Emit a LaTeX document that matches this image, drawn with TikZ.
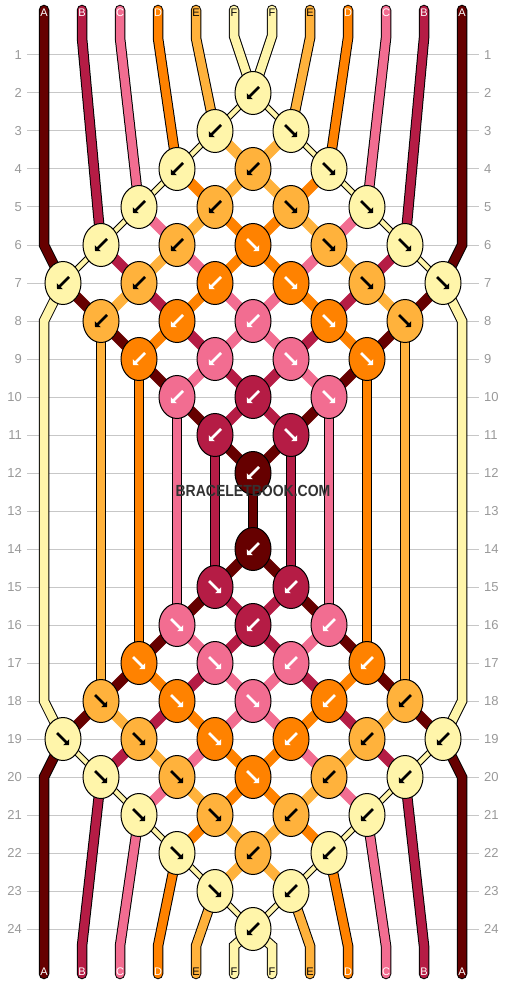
\documentclass[tikz,border=0pt]{standalone}
\usepackage{fontspec}
\setmainfont{Liberation Sans}
\usepackage{graphicx}
\usetikzlibrary{shapes.geometric,arrows.meta}
\pgfdeclarelayer{grid}
\pgfdeclarelayer{strings}
\pgfsetlayers{grid,strings,main}

\newlength{\du}
\setlength{\du}{1pt}

\definecolor{colA}{rgb}{0.400000, 0.000000, 0.000000}
\definecolor{colB}{rgb}{0.709804, 0.109804, 0.270588}
\definecolor{colC}{rgb}{0.949020, 0.427451, 0.568627}
\definecolor{colD}{rgb}{1.000000, 0.509804, 0.000000}
\definecolor{colE}{rgb}{1.000000, 0.698039, 0.235294}
\definecolor{colF}{rgb}{1.000000, 0.960784, 0.666667}
\definecolor{gridcolor}{rgb}{0.780000, 0.780000, 0.780000}
\definecolor{numcolor}{rgb}{0.600000, 0.600000, 0.600000}
\definecolor{wmcolor}{rgb}{0.200000, 0.200000, 0.200000}

\tikzset{
  knot/.style={ellipse, draw=black, line width=1\du, minimum width=36\du, minimum height=43\du, inner sep=0pt},
  knotA/.style={knot, fill=colA},
  knotB/.style={knot, fill=colB},
  knotC/.style={knot, fill=colC},
  knotD/.style={knot, fill=colD},
  knotE/.style={knot, fill=colE},
  knotF/.style={knot, fill=colF},
  strand/.style={draw=black, line width=1\du, double distance=8.5\du, line cap=round},
  strA/.style={strand, double=colA},
  strB/.style={strand, double=colB},
  strC/.style={strand, double=colC},
  strD/.style={strand, double=colD},
  strE/.style={strand, double=colE},
  strF/.style={strand, double=colF},
  link/.style={line width=10.5\du},
  linkA/.style={link, draw=colA},
  linkB/.style={link, draw=colB},
  linkC/.style={link, draw=colC},
  linkD/.style={link, draw=colD},
  linkE/.style={link, draw=colE},
  linkF/.style={draw=black, line width=1\du, double=colF, double distance=4.5\du},
  arrw/.style={line width=2.6\du, -{Triangle[angle=90:5.7pt]}, white},
  arrb/.style={arrw, black},
  rownum/.style={text=numcolor, font=\fontsize{13}{13}\selectfont, inner sep=0pt},
  strlbl/.style={font=\fontsize{11}{11}\selectfont, inner sep=0pt},
  gridline/.style={draw=gridcolor, line width=1\du},
  wmtext/.style={text=wmcolor, font=\fontsize{14}{14}\selectfont\bfseries, inner sep=0pt}
}

\begin{document}
\begin{tikzpicture}
\pgftransformxscale{1.000000}
\pgftransformyscale{-1.000000}
\useasboundingbox (0\du,0\du) rectangle (506\du,984\du);

% row lines and numbers
\begin{pgfonlayer}{grid}
\foreach \r in {1,...,24} {
  \pgfmathsetmacro{\y}{55+38*(\r-1)}
  \draw[gridline] (27\du,\y\du) -- (479\du,\y\du);
  \node[rownum, anchor=east] (numL\r) at (22\du,\y\du) {\r};
  \node[rownum, anchor=west] (numR\r) at (484\du,\y\du) {\r};
}
\end{pgfonlayer}

% knots, top half
\node[knotF] (k2-6) at (253\du,93\du) {};
\node[knotF] (k3-5) at (215\du,131\du) {};
\node[knotF] (k3-7) at (291\du,131\du) {};
\node[knotF] (k4-4) at (177\du,169\du) {};
\node[knotE] (k4-6) at (253\du,169\du) {};
\node[knotF] (k4-8) at (329\du,169\du) {};
\node[knotF] (k5-3) at (139\du,207\du) {};
\node[knotE] (k5-5) at (215\du,207\du) {};
\node[knotE] (k5-7) at (291\du,207\du) {};
\node[knotF] (k5-9) at (367\du,207\du) {};
\node[knotF] (k6-2) at (101\du,245\du) {};
\node[knotE] (k6-4) at (177\du,245\du) {};
\node[knotD] (k6-6) at (253\du,245\du) {};
\node[knotE] (k6-8) at (329\du,245\du) {};
\node[knotF] (k6-10) at (405\du,245\du) {};
\node[knotF] (k7-1) at (63\du,283\du) {};
\node[knotE] (k7-3) at (139\du,283\du) {};
\node[knotD] (k7-5) at (215\du,283\du) {};
\node[knotD] (k7-7) at (291\du,283\du) {};
\node[knotE] (k7-9) at (367\du,283\du) {};
\node[knotF] (k7-11) at (443\du,283\du) {};
\node[knotE] (k8-2) at (101\du,321\du) {};
\node[knotD] (k8-4) at (177\du,321\du) {};
\node[knotC] (k8-6) at (253\du,321\du) {};
\node[knotD] (k8-8) at (329\du,321\du) {};
\node[knotE] (k8-10) at (405\du,321\du) {};
\node[knotD] (k9-3) at (139\du,359\du) {};
\node[knotC] (k9-5) at (215\du,359\du) {};
\node[knotC] (k9-7) at (291\du,359\du) {};
\node[knotD] (k9-9) at (367\du,359\du) {};
\node[knotC] (k10-4) at (177\du,397\du) {};
\node[knotB] (k10-6) at (253\du,397\du) {};
\node[knotC] (k10-8) at (329\du,397\du) {};
\node[knotB] (k11-5) at (215\du,435\du) {};
\node[knotB] (k11-7) at (291\du,435\du) {};
\node[knotA] (k12-6) at (253\du,473\du) {};
% knots, bottom half
\node[knotA] (k14-6) at (253\du,549\du) {};
\node[knotB] (k15-5) at (215\du,587\du) {};
\node[knotB] (k15-7) at (291\du,587\du) {};
\node[knotC] (k16-4) at (177\du,625\du) {};
\node[knotB] (k16-6) at (253\du,625\du) {};
\node[knotC] (k16-8) at (329\du,625\du) {};
\node[knotD] (k17-3) at (139\du,663\du) {};
\node[knotC] (k17-5) at (215\du,663\du) {};
\node[knotC] (k17-7) at (291\du,663\du) {};
\node[knotD] (k17-9) at (367\du,663\du) {};
\node[knotE] (k18-2) at (101\du,701\du) {};
\node[knotD] (k18-4) at (177\du,701\du) {};
\node[knotC] (k18-6) at (253\du,701\du) {};
\node[knotD] (k18-8) at (329\du,701\du) {};
\node[knotE] (k18-10) at (405\du,701\du) {};
\node[knotF] (k19-1) at (63\du,739\du) {};
\node[knotE] (k19-3) at (139\du,739\du) {};
\node[knotD] (k19-5) at (215\du,739\du) {};
\node[knotD] (k19-7) at (291\du,739\du) {};
\node[knotE] (k19-9) at (367\du,739\du) {};
\node[knotF] (k19-11) at (443\du,739\du) {};
\node[knotF] (k20-2) at (101\du,777\du) {};
\node[knotE] (k20-4) at (177\du,777\du) {};
\node[knotD] (k20-6) at (253\du,777\du) {};
\node[knotE] (k20-8) at (329\du,777\du) {};
\node[knotF] (k20-10) at (405\du,777\du) {};
\node[knotF] (k21-3) at (139\du,815\du) {};
\node[knotE] (k21-5) at (215\du,815\du) {};
\node[knotE] (k21-7) at (291\du,815\du) {};
\node[knotF] (k21-9) at (367\du,815\du) {};
\node[knotF] (k22-4) at (177\du,853\du) {};
\node[knotE] (k22-6) at (253\du,853\du) {};
\node[knotF] (k22-8) at (329\du,853\du) {};
\node[knotF] (k23-5) at (215\du,891\du) {};
\node[knotF] (k23-7) at (291\du,891\du) {};
\node[knotF] (k24-6) at (253\du,929\du) {};

% arrows in the knots
\foreach \k in {k7-5,k8-4,k8-6,k9-3,k9-5,k10-4,k10-6,k11-5,k12-6,k14-6,k15-7,k16-6,k16-8,k17-7,k17-9,k18-8,k19-7}
  \draw[arrw] (\k.center) ++(6\du,-6\du) -- ++(-12\du,12\du);
\foreach \k in {k6-6,k7-7,k8-8,k9-7,k9-9,k10-8,k11-7,k15-5,k16-4,k17-3,k17-5,k18-4,k18-6,k19-5,k20-6}
  \draw[arrw] (\k.center) ++(-6\du,-6\du) -- ++(12\du,12\du);
\foreach \k in {k2-6,k3-5,k4-4,k4-6,k5-3,k5-5,k6-2,k6-4,k7-1,k7-3,k8-2,k18-10,k19-9,k19-11,k20-8,k20-10,k21-7,k21-9,k22-6,k22-8,k23-7,k24-6}
  \draw[arrb] (\k.center) ++(6\du,-6\du) -- ++(-12\du,12\du);
\foreach \k in {k3-7,k4-8,k5-7,k5-9,k6-8,k6-10,k7-9,k7-11,k8-10,k18-2,k19-1,k19-3,k20-2,k20-4,k21-3,k21-5,k22-4,k23-5}
  \draw[arrb] (\k.center) ++(-6\du,-6\du) -- ++(12\du,12\du);

% string ends
\coordinate (top1) at (44\du,10\du);
\coordinate (top2) at (82\du,10\du);
\coordinate (top3) at (120\du,10\du);
\coordinate (top4) at (158\du,10\du);
\coordinate (top5) at (196\du,10\du);
\coordinate (top6) at (234\du,10\du);
\coordinate (top7) at (272\du,10\du);
\coordinate (top8) at (310\du,10\du);
\coordinate (top9) at (348\du,10\du);
\coordinate (top10) at (386\du,10\du);
\coordinate (top11) at (424\du,10\du);
\coordinate (top12) at (462\du,10\du);
\coordinate (bot1) at (44\du,974\du);
\coordinate (bot2) at (82\du,974\du);
\coordinate (bot3) at (120\du,974\du);
\coordinate (bot4) at (158\du,974\du);
\coordinate (bot5) at (196\du,974\du);
\coordinate (bot6) at (234\du,974\du);
\coordinate (bot7) at (272\du,974\du);
\coordinate (bot8) at (310\du,974\du);
\coordinate (bot9) at (348\du,974\du);
\coordinate (bot10) at (386\du,974\du);
\coordinate (bot11) at (424\du,974\du);
\coordinate (bot12) at (462\du,974\du);

\begin{pgfonlayer}{strings}
% links between knots
\foreach \a/\b in {k7-1/k8-2,k7-11/k8-10,k8-2/k9-3,k8-10/k9-9,k9-3/k10-4,k9-9/k10-8,k10-4/k11-5,k10-8/k11-7,k11-5/k12-6,k11-7/k12-6,k14-6/k15-5,k14-6/k15-7,k15-5/k16-4,k15-7/k16-8,k16-4/k17-3,k16-8/k17-9,k17-3/k18-2,k17-9/k18-10,k18-2/k19-1,k18-10/k19-11}
  \draw[linkA] (\a.center) -- (\b.center);
\foreach \a/\b in {k6-2/k7-3,k6-10/k7-9,k7-3/k8-4,k7-9/k8-8,k8-4/k9-5,k8-8/k9-7,k9-5/k10-6,k9-7/k10-6,k10-6/k11-5,k10-6/k11-7,k15-5/k16-6,k15-7/k16-6,k16-6/k17-5,k16-6/k17-7,k17-5/k18-4,k17-7/k18-8,k18-4/k19-3,k18-8/k19-9,k19-3/k20-2,k19-9/k20-10}
  \draw[linkB] (\a.center) -- (\b.center);
\foreach \a/\b in {k5-3/k6-4,k5-9/k6-8,k6-4/k7-5,k6-8/k7-7,k7-5/k8-6,k7-7/k8-6,k8-6/k9-5,k8-6/k9-7,k9-5/k10-4,k9-7/k10-8,k16-4/k17-5,k16-8/k17-7,k17-5/k18-6,k17-7/k18-6,k18-6/k19-5,k18-6/k19-7,k19-5/k20-4,k19-7/k20-8,k20-4/k21-3,k20-8/k21-9}
  \draw[linkC] (\a.center) -- (\b.center);
\foreach \a/\b in {k4-4/k5-5,k4-8/k5-7,k5-5/k6-6,k5-7/k6-6,k6-6/k7-5,k6-6/k7-7,k7-5/k8-4,k7-7/k8-8,k8-4/k9-3,k8-8/k9-9,k17-3/k18-4,k17-9/k18-8,k18-4/k19-5,k18-8/k19-7,k19-5/k20-6,k19-7/k20-6,k20-6/k21-5,k20-6/k21-7,k21-5/k22-4,k21-7/k22-8}
  \draw[linkD] (\a.center) -- (\b.center);
\foreach \a/\b in {k3-5/k4-6,k3-7/k4-6,k4-6/k5-5,k4-6/k5-7,k5-5/k6-4,k5-7/k6-8,k6-4/k7-3,k6-8/k7-9,k7-3/k8-2,k7-9/k8-10,k18-2/k19-3,k18-10/k19-9,k19-3/k20-4,k19-9/k20-8,k20-4/k21-5,k20-8/k21-7,k21-5/k22-6,k21-7/k22-6,k22-6/k23-5,k22-6/k23-7}
  \draw[linkE] (\a.center) -- (\b.center);
\foreach \a/\b in {k2-6/k3-5,k2-6/k3-7,k3-5/k4-4,k3-7/k4-8,k4-4/k5-3,k4-8/k5-9,k5-3/k6-2,k5-9/k6-10,k6-2/k7-1,k6-10/k7-11,k19-1/k20-2,k19-11/k20-10,k20-2/k21-3,k20-10/k21-9,k21-3/k22-4,k21-9/k22-8,k22-4/k23-5,k22-8/k23-7,k23-5/k24-6,k23-7/k24-6}
  \draw[linkF] (\a.center) -- (\b.center);
% long strands down the middle
\draw[strA] (k12-6.center) -- (k14-6.center);
\draw[strB] (k11-5.center) -- (k15-5.center);
\draw[strB] (k11-7.center) -- (k15-7.center);
\draw[strC] (k10-4.center) -- (k16-4.center);
\draw[strC] (k10-8.center) -- (k16-8.center);
\draw[strD] (k9-3.center) -- (k17-3.center);
\draw[strD] (k9-9.center) -- (k17-9.center);
\draw[strE] (k8-2.center) -- (k18-2.center);
\draw[strE] (k8-10.center) -- (k18-10.center);
\draw[strF] (k7-1.center) -- (44\du,321\du) -- (44\du,701\du) -- (k19-1.center);
\draw[strF] (k7-11.center) -- (462\du,321\du) -- (462\du,701\du) -- (k19-11.center);
% strings coming in at the top
\draw[strA] (top1) -- (44\du,245\du) -- (k7-1.center);
\draw[strB] (top2) -- (82\du,38\du) -- (k6-2.center);
\draw[strC] (top3) -- (120\du,38\du) -- (k5-3.center);
\draw[strD] (top4) -- (158\du,38\du) -- (k4-4.center);
\draw[strE] (top5) -- (196\du,38\du) -- (k3-5.center);
\draw[strF] (top6) -- (234\du,36\du) -- (k2-6.center);
\draw[strF] (top7) -- (272\du,36\du) -- (k2-6.center);
\draw[strE] (top8) -- (310\du,38\du) -- (k3-7.center);
\draw[strD] (top9) -- (348\du,38\du) -- (k4-8.center);
\draw[strC] (top10) -- (386\du,38\du) -- (k5-9.center);
\draw[strB] (top11) -- (424\du,38\du) -- (k6-10.center);
\draw[strA] (top12) -- (462\du,245\du) -- (k7-11.center);
% strings going out at the bottom
\draw[strA] (k19-1.center) -- (44\du,777\du) -- (bot1);
\draw[strB] (k20-2.center) -- (82\du,946\du) -- (bot2);
\draw[strC] (k21-3.center) -- (120\du,946\du) -- (bot3);
\draw[strD] (k22-4.center) -- (158\du,946\du) -- (bot4);
\draw[strE] (k23-5.center) -- (196\du,946\du) -- (bot5);
\draw[strF] (k24-6.center) -- (234\du,946\du) -- (bot6);
\draw[strF] (k24-6.center) -- (272\du,946\du) -- (bot7);
\draw[strE] (k23-7.center) -- (310\du,946\du) -- (bot8);
\draw[strD] (k22-8.center) -- (348\du,946\du) -- (bot9);
\draw[strC] (k21-9.center) -- (386\du,946\du) -- (bot10);
\draw[strB] (k20-10.center) -- (424\du,946\du) -- (bot11);
\draw[strA] (k19-11.center) -- (462\du,777\du) -- (bot12);
\end{pgfonlayer}

% string letters
\node[strlbl, text=white] (ltop1) at (44\du,13\du) {A};
\node[strlbl, text=white] (ltop2) at (82\du,13\du) {B};
\node[strlbl, text=white] (ltop3) at (120\du,13\du) {C};
\node[strlbl, text=white] (ltop4) at (158\du,13\du) {D};
\node[strlbl] (ltop5) at (196\du,13\du) {E};
\node[strlbl] (ltop6) at (234\du,13\du) {F};
\node[strlbl] (ltop7) at (272\du,13\du) {F};
\node[strlbl] (ltop8) at (310\du,13\du) {E};
\node[strlbl, text=white] (ltop9) at (348\du,13\du) {D};
\node[strlbl, text=white] (ltop10) at (386\du,13\du) {C};
\node[strlbl, text=white] (ltop11) at (424\du,13\du) {B};
\node[strlbl, text=white] (ltop12) at (462\du,13\du) {A};
\node[strlbl, text=white] (lbot1) at (44\du,972\du) {A};
\node[strlbl, text=white] (lbot2) at (82\du,972\du) {B};
\node[strlbl, text=white] (lbot3) at (120\du,972\du) {C};
\node[strlbl, text=white] (lbot4) at (158\du,972\du) {D};
\node[strlbl] (lbot5) at (196\du,972\du) {E};
\node[strlbl] (lbot6) at (234\du,972\du) {F};
\node[strlbl] (lbot7) at (272\du,972\du) {F};
\node[strlbl] (lbot8) at (310\du,972\du) {E};
\node[strlbl, text=white] (lbot9) at (348\du,972\du) {D};
\node[strlbl, text=white] (lbot10) at (386\du,972\du) {C};
\node[strlbl, text=white] (lbot11) at (424\du,972\du) {B};
\node[strlbl, text=white] (lbot12) at (462\du,972\du) {A};

% watermark
\node[wmtext] (wm) at (253\du,491\du) {\scalebox{1}[1.15]{BRACELETBOOK.COM}};
\end{tikzpicture}
\end{document}
